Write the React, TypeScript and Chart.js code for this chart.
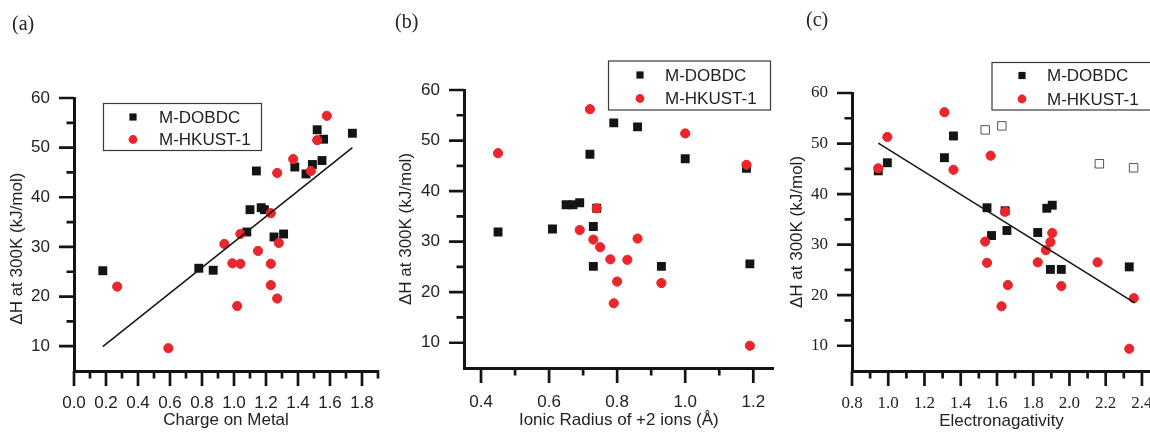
import React, { useEffect, useRef } from 'react';
import { Chart, registerables } from 'chart.js';

Chart.register(...registerables);

const BLACK = '#141414';
const RED = '#e8262b';
const TEXT = '#222222';

// ---------- Panel (a): Charge on Metal ----------
const aDobdcX = [0.18, 0.78, 0.87, 1.08, 1.1, 1.14, 1.17, 1.19, 1.25, 1.31, 1.38, 1.45, 1.49, 1.52, 1.56, 1.55, 1.74];
const aDobdcY = [25.2, 25.7, 25.3, 33.0, 37.5, 45.3, 37.9, 37.5, 32.0, 32.6, 46.1, 44.7, 46.6, 53.6, 51.7, 47.4, 52.9];
const aHkustX = [0.27, 0.59, 0.94, 0.99, 1.04, 1.02, 1.04, 1.15, 1.23, 1.23, 1.23, 1.27, 1.28, 1.27, 1.37, 1.48, 1.52, 1.58];
const aHkustY = [22.0, 9.6, 30.6, 26.7, 26.6, 18.1, 32.6, 29.2, 36.8, 26.6, 22.3, 19.6, 30.8, 44.9, 47.7, 45.3, 51.5, 56.4];
const aFitX = [0.18, 1.74];
const aFitY = [9.9, 50.0];
const aXMajor = [0.0, 0.2, 0.4, 0.6, 0.8, 1.0, 1.2, 1.4, 1.6, 1.8];
const aXMinor = [0.1, 0.3, 0.5, 0.7, 0.9, 1.1, 1.3, 1.5, 1.7, 1.9];

// ---------- Panel (b): Ionic radius ----------
const bDobdcX = [0.45, 0.61, 0.65, 0.67, 0.69, 0.72, 0.73, 0.74, 0.73, 0.79, 0.86, 0.93, 1.0, 1.18, 1.19];
const bDobdcY = [31.9, 32.5, 37.3, 37.3, 37.7, 47.3, 33.0, 36.6, 25.1, 53.5, 52.7, 25.1, 46.4, 44.5, 25.6];
const bHkustX = [0.45, 0.72, 0.69, 0.73, 0.74, 0.75, 0.78, 0.83, 0.8, 0.79, 0.86, 0.93, 1.0, 1.18, 1.19];
const bHkustY = [47.5, 56.2, 32.3, 30.4, 36.6, 28.9, 26.5, 26.4, 22.1, 17.8, 30.6, 21.8, 51.4, 45.2, 9.4];
const bXMajor = [0.4, 0.6, 0.8, 1.0, 1.2];
const bXMinor = [0.5, 0.7, 0.9, 1.1];

// ---------- Panel (c): Electronegativity ----------
const cDobdcX = [0.945, 0.995, 1.31, 1.36, 1.545, 1.57, 1.645, 1.655, 1.825, 1.875, 1.905, 1.895, 1.955, 2.33];
const cDobdcY = [44.6, 46.2, 47.2, 51.5, 37.3, 31.8, 36.7, 32.8, 32.4, 37.2, 37.8, 25.1, 25.1, 25.6];
const cOpenX = [1.535, 1.627, 2.165, 2.354];
const cOpenY = [52.7, 53.5, 46.0, 45.2];
const cHkustX = [0.945, 0.995, 1.31, 1.36, 1.565, 1.535, 1.545, 1.645, 1.66, 1.625, 1.825, 1.87, 1.895, 1.905, 1.955, 2.155, 2.355, 2.33];
const cHkustY = [45.1, 51.3, 56.2, 44.8, 47.6, 30.6, 26.4, 36.5, 22.0, 17.8, 26.5, 28.9, 30.5, 32.3, 21.8, 26.5, 19.4, 9.4];
const cFitX = [0.945, 2.36];
const cFitY = [50.1, 18.5];
const cXMajor = [0.8, 1.0, 1.2, 1.4, 1.6, 1.8, 2.0, 2.2, 2.4];
const cXMinor = [0.9, 1.1, 1.3, 1.5, 1.7, 1.9, 2.1, 2.3];

// shared y ticks
const yMajor = [10, 20, 30, 40, 50, 60];
const yMinor = [15, 25, 35, 45, 55];

const SERIES_DOBDC = 'M-DOBDC';
const SERIES_HKUST = 'M-HKUST-1';
const Y_TITLE = 'ΔH at 300K (kJ/mol)';

const toPts = (xs: number[], ys: number[]) => xs.map((x, i) => ({ x, y: ys[i] }));

const axisTicksPlugin = {
  id: 'axisTicks',
  afterDraw(chart: any, _args: any, opts: any) {
    const { ctx, chartArea } = chart;
    const xs = chart.scales.x;
    const ys = chart.scales.y;
    ctx.save();
    ctx.strokeStyle = BLACK;
    ctx.lineWidth = 2.7;
    ctx.beginPath();
    const seg = (vals: number[], len: number, horiz: boolean) => {
      vals.forEach((v) => {
        if (horiz) {
          const p = xs.getPixelForValue(v);
          ctx.moveTo(p, chartArea.bottom);
          ctx.lineTo(p, chartArea.bottom + len);
        } else {
          const p = ys.getPixelForValue(v);
          ctx.moveTo(chartArea.left, p);
          ctx.lineTo(chartArea.left - len, p);
        }
      });
    };
    seg(opts.xMajor, 15, true);
    seg(opts.xMinor, 7.5, true);
    seg(opts.yMajor, 15, false);
    seg(opts.yMinor, 7.5, false);
    ctx.stroke();
    ctx.restore();
  },
};

const boxLegendPlugin = {
  id: 'boxLegend',
  afterDraw(chart: any, _args: any, opts: any) {
    const { ctx } = chart;
    const { x, y, w, h, markerX, textX, rows } = opts;
    ctx.save();
    ctx.strokeStyle = '#3a3a3a';
    ctx.lineWidth = 1.2;
    ctx.strokeRect(x, y, w, h);
    ctx.font = '17px "Liberation Sans", Arial, sans-serif';
    ctx.textBaseline = 'middle';
    ctx.textAlign = 'left';
    rows.forEach((r: any) => {
      const ds = chart.data.datasets[r.ds];
      ctx.fillStyle = ds.pointBackgroundColor;
      if (ds.pointStyle === 'rect') {
        ctx.fillRect(markerX - 3.6, r.y - 3.6, 7.2, 7.2);
      } else {
        ctx.beginPath();
        ctx.arc(markerX, r.y, 4.4, 0, Math.PI * 2);
        ctx.fill();
      }
      ctx.fillStyle = TEXT;
      ctx.fillText(ds.label, textX, r.y + 1);
    });
    ctx.restore();
  },
};

function fitDs(xs: number[], ys: number[]) {
  return {
    label: 'fit',
    data: toPts(xs, ys),
    showLine: true,
    borderColor: BLACK,
    borderWidth: 1.5,
    pointRadius: 0,
    fill: false,
    order: 0,
  };
}
function hkustDs(xs: number[], ys: number[]) {
  return {
    label: SERIES_HKUST,
    data: toPts(xs, ys),
    pointStyle: 'circle',
    pointRadius: 4.6,
    pointBorderWidth: 1,
    pointBackgroundColor: RED,
    pointBorderColor: RED,
    backgroundColor: RED,
    borderColor: RED,
    order: 1,
  };
}
function dobdcDs(xs: number[], ys: number[]) {
  return {
    label: SERIES_DOBDC,
    data: toPts(xs, ys),
    pointStyle: 'rect',
    pointRadius: 6.3,
    pointBorderWidth: 0,
    pointBackgroundColor: BLACK,
    pointBorderColor: BLACK,
    backgroundColor: BLACK,
    borderColor: BLACK,
    order: 2,
  };
}
function openDs(xs: number[], ys: number[]) {
  return {
    label: SERIES_DOBDC + ' (open)',
    data: toPts(xs, ys),
    pointStyle: 'rect',
    pointRadius: 6,
    pointBorderWidth: 1,
    pointBackgroundColor: 'rgba(0,0,0,0)',
    pointBorderColor: '#555555',
    backgroundColor: 'rgba(0,0,0,0)',
    borderColor: '#555555',
    order: 3,
  };
}

type Spec = {
  width: number;
  datasets: any[];
  xMin: number;
  xMax: number;
  xMajor: number[];
  xMinor: number[];
  xTitle: string;
  yTitle: string;
  tickFamily: string;
  yAxisWidth: number;
  xAxisHeight: number;
  padding: { left: number; top: number; right: number; bottom: number };
  yTitlePad: number;
  xTitlePad: number;
  xTickPad: number;
  yTickPad: number;
  legend: any;
};

function buildConfig(s: Spec): any {
  const tickFont = { family: s.tickFamily, size: 17 };
  const titleFont = { family: '"Liberation Sans", Arial, sans-serif', size: 17 };
  return {
    type: 'scatter',
    data: { datasets: s.datasets },
    options: {
      responsive: false,
      animation: false,
      events: [],
      layout: { padding: s.padding },
      plugins: {
        legend: { display: false },
        tooltip: { enabled: false },
        title: { display: false },
        axisTicks: { xMajor: s.xMajor, xMinor: s.xMinor, yMajor, yMinor },
        boxLegend: s.legend,
      },
      scales: {
        x: {
          type: 'linear',
          position: 'bottom',
          min: s.xMin,
          max: s.xMax,
          afterBuildTicks: (sc: any) => {
            sc.ticks = s.xMajor.map((v) => ({ value: v }));
          },
          afterFit: (sc: any) => {
            sc.height = s.xAxisHeight;
          },
          ticks: {
            autoSkip: false,
            maxRotation: 0,
            padding: s.xTickPad,
            color: TEXT,
            font: tickFont,
            callback: (v: any) => Number(v).toFixed(1),
          },
          grid: { display: true, drawOnChartArea: false, drawTicks: true, tickLength: 15, tickColor: 'rgba(0,0,0,0)' },
          border: { display: true, color: BLACK, width: 3 },
          title: { display: true, text: s.xTitle, color: TEXT, font: titleFont, padding: { top: 0, bottom: s.xTitlePad } },
        },
        y: {
          type: 'linear',
          position: 'left',
          min: 5,
          max: 60,
          afterBuildTicks: (sc: any) => {
            sc.ticks = yMajor.map((v) => ({ value: v }));
          },
          afterFit: (sc: any) => {
            sc.width = s.yAxisWidth;
          },
          ticks: {
            autoSkip: false,
            padding: s.yTickPad,
            color: TEXT,
            font: tickFont,
            callback: (v: any) => String(v),
          },
          grid: { display: true, drawOnChartArea: false, drawTicks: true, tickLength: 15, tickColor: 'rgba(0,0,0,0)' },
          border: { display: true, color: BLACK, width: 3 },
          title: { display: true, text: s.yTitle, color: TEXT, font: titleFont, padding: { top: s.yTitlePad, bottom: 0 } },
        },
      },
    },
    plugins: [axisTicksPlugin, boxLegendPlugin],
  };
}

const SANS = '"Liberation Sans", Arial, sans-serif';
const SERIF = '"Liberation Serif", "Times New Roman", serif';

const specA: Spec = {
  width: 392,
  datasets: [fitDs(aFitX, aFitY), hkustDs(aHkustX, aHkustY), dobdcDs(aDobdcX, aDobdcY)],
  xMin: 0,
  xMax: 1.9,
  xMajor: aXMajor,
  xMinor: aXMinor,
  xTitle: 'Charge on Metal',
  // trailing spaces nudge the centred, rotated title slightly lower, as in the original
  yTitle: Y_TITLE + '      ',
  tickFamily: SANS,
  yAxisWidth: 74,
  xAxisHeight: 61,
  padding: { left: 0, top: 98, right: 14, bottom: 0 },
  yTitlePad: 7,
  xTitlePad: 1,
  xTickPad: 7,
  yTickPad: 9,
  legend: { x: 103.5, y: 103.5, w: 158, h: 47, markerX: 133, textX: 159, rows: [{ ds: 2, y: 117 }, { ds: 1, y: 139.5 }] },
};

const specB: Spec = {
  width: 390,
  datasets: [hkustDs(bHkustX, bHkustY), dobdcDs(bDobdcX, bDobdcY)],
  xMin: 0.35,
  xMax: 1.26,
  xMajor: bXMajor,
  xMinor: bXMinor,
  xTitle: 'Ionic Radius of +2 ions (Å)',
  yTitle: Y_TITLE,
  tickFamily: SANS,
  yAxisWidth: 74,
  xAxisHeight: 64,
  padding: { left: 0, top: 90, right: 5, bottom: 0 },
  yTitlePad: 6,
  xTitlePad: 1,
  xTickPad: 9,
  yTickPad: 9,
  legend: { x: 218.5, y: 61, w: 162, h: 49, markerX: 250, textX: 275, rows: [{ ds: 1, y: 75 }, { ds: 0, y: 98.5 }] },
};

const specC: Spec = {
  width: 410,
  datasets: [fitDs(cFitX, cFitY), hkustDs(cHkustX, cHkustY), dobdcDs(cDobdcX, cDobdcY), openDs(cOpenX, cOpenY)],
  xMin: 0.8,
  xMax: 2.45,
  xMajor: cXMajor,
  xMinor: cXMinor,
  xTitle: 'Electronagativity',
  yTitle: Y_TITLE,
  tickFamily: SERIF,
  yAxisWidth: 82,
  xAxisHeight: 61,
  padding: { left: 0, top: 93, right: 29, bottom: 0 },
  yTitlePad: 17,
  xTitlePad: 0,
  xTickPad: 7,
  yTickPad: 9,
  legend: { x: 222, y: 62.5, w: 200, h: 47.5, markerX: 252, textX: 277, rows: [{ ds: 2, y: 75.5 }, { ds: 1, y: 99 }] },
};

function Panel({ spec, left }: { spec: Spec; left: number }) {
  const ref = useRef<HTMLCanvasElement | null>(null);
  useEffect(() => {
    if (!ref.current) return;
    const chart = new Chart(ref.current, buildConfig(spec));
    return () => chart.destroy();
  }, [spec]);
  return (
    <canvas
      ref={ref}
      width={spec.width}
      height={432}
      style={{ position: 'absolute', left, top: 0, width: spec.width, height: 432 }}
    />
  );
}

const labelStyle = (left: number, top: number): React.CSSProperties => ({
  position: 'absolute',
  left,
  top,
  font: `20px ${SERIF}`,
  color: TEXT,
  lineHeight: 'normal',
});

export default function App() {
  return (
    <div
      style={{
        position: 'absolute',
        left: 0,
        top: 0,
        width: 1150,
        height: 432,
        overflow: 'hidden',
        background: '#ffffff',
      }}
    >
      <Panel spec={specA} left={0} />
      <Panel spec={specB} left={390} />
      <Panel spec={specC} left={770} />
      <div style={labelStyle(12, 12)}>(a)</div>
      <div style={labelStyle(395, 10)}>(b)</div>
      <div style={labelStyle(806, 8)}>(c)</div>
    </div>
  );
}
